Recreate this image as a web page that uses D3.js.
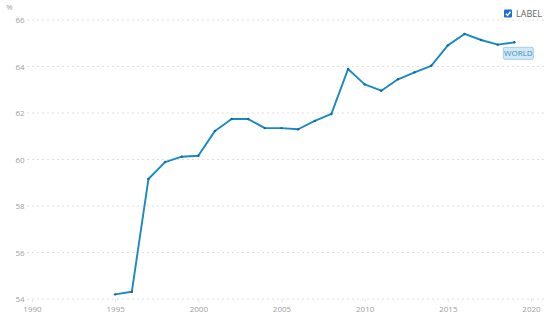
<!DOCTYPE html>
<html><head><meta charset="utf-8">
<script src="https://cdn.jsdelivr.net/npm/d3@7"></script>
<style>
html,body{margin:0;padding:0;background:#fff;}
svg{display:block;font-family:"Open Sans",sans-serif;}
</style></head>
<body>
<svg id="chart" width="550" height="320"></svg>
<script>
const years = [1995,1996,1997,1998,1999,2000,2001,2002,2003,2004,2005,2006,2007,2008,2009,2010,2011,2012,2013,2014,2015,2016,2017,2018,2019];
const values = [54.20,54.31,59.16,59.89,60.12,60.16,61.23,61.74,61.74,61.35,61.35,61.30,61.66,61.96,63.89,63.23,62.96,63.45,63.75,64.03,64.91,65.40,65.14,64.94,65.04];
const yTicks = [54,56,58,60,62,64,66];
const xTicks = [1990,1995,2000,2005,2010,2015,2020];
const unitLabel = "%";
const legendLabel = "LABEL";
const seriesName = "WORLD";

const svg = d3.select("#chart");
const x = d3.scaleLinear().domain([1990,2020]).range([32,531]);
const y = d3.scaleLinear().domain([54,66]).range([299,20]);
const color = "#1b89c2";

// gridlines
svg.append("g").selectAll("line").data(yTicks).join("line")
  .attr("x1",27).attr("x2",546)
  .attr("y1",d=>y(d)).attr("y2",d=>y(d))
  .attr("stroke","#e0e0e0").attr("stroke-width",1)
  .attr("stroke-dasharray","2,3");

// y labels
svg.append("g").selectAll("text").data(yTicks).join("text")
  .attr("x",20).attr("y",d=>y(d)+3)
  .attr("text-anchor","middle").attr("font-size",8).attr("fill","#a0a0a0")
  .text(d=>d);
svg.append("text").attr("x",6).attr("y",10).attr("font-size",8).attr("fill","#a0a0a0").text(unitLabel);

// x axis
const xAxis = d3.axisBottom(x).tickValues(xTicks).tickSize(3).tickFormat(d3.format("d"));
const gx = svg.append("g").attr("transform",`translate(0,${y(54)})`).call(xAxis);
gx.select(".domain").remove();
gx.selectAll(".tick line").attr("stroke","#e6e6e6");
gx.selectAll(".tick text").attr("fill","#a0a0a0").attr("font-size",8).attr("font-family","Open Sans, sans-serif").attr("dy","0.9em");

// line
const data = years.map((yr,i)=>({yr,v:values[i]}));
svg.append("path").datum(data)
  .attr("fill","none").attr("stroke",color).attr("stroke-width",1.9)
  .attr("stroke-linejoin","round")
  .attr("d",d3.line().x(d=>x(d.yr)).y(d=>y(d.v)));
svg.append("g").selectAll("circle").data(data).join("circle")
  .attr("cx",d=>x(d.yr)).attr("cy",d=>y(d.v)).attr("r",1.2)
  .attr("fill","#11699c");

// series label
const last = data[data.length-1];
const lbx = x(last.yr)-11, lby = y(last.v)+5;
svg.append("rect").attr("x",lbx).attr("y",lby).attr("width",30).attr("height",12).attr("rx",1.5)
  .attr("fill","#d3e8f4").attr("stroke","#a6cfe6").attr("stroke-width",1);
svg.append("text").attr("x",lbx+15).attr("y",lby+9).attr("text-anchor","middle")
  .attr("font-size",8).attr("fill","#3a8fc4").text(seriesName);

// legend
const lg = svg.append("g").attr("transform","translate(504,9.5)");
lg.append("rect").attr("width",8).attr("height",8).attr("rx",1).attr("fill","#1a6fd0");
lg.append("path").attr("d","M1.8,4.2 L3.5,6 L6.5,2.2").attr("fill","none").attr("stroke","#fff").attr("stroke-width",1.4);
lg.append("text").attr("x",12).attr("y",7.5).attr("font-size",9).attr("fill","#666").text(legendLabel);
</script>
</body></html>
